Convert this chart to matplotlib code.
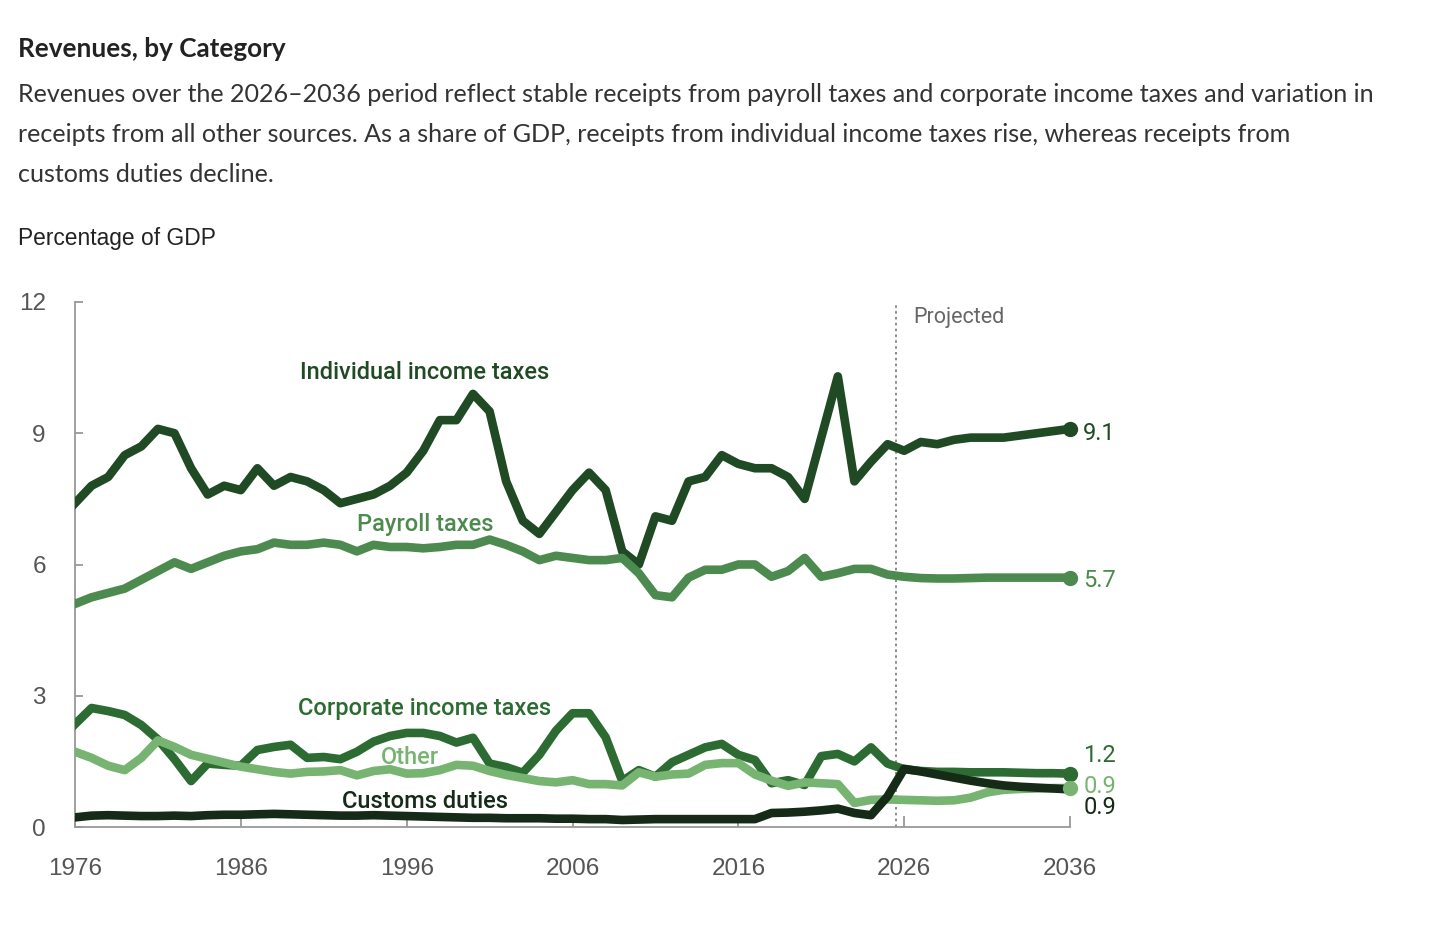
import matplotlib
matplotlib.use("Agg")
import matplotlib.pyplot as plt
import numpy as np

years = list(range(1976, 2037))

individual = [7.4, 7.8, 8.0, 8.5, 8.7, 9.1, 9.0, 8.2, 7.6, 7.8, 7.7, 8.2, 7.8, 8.0, 7.9, 7.7,
              7.4, 7.5, 7.6, 7.8, 8.1, 8.6, 9.3, 9.3, 9.9, 9.5, 7.9, 7.0, 6.7, 7.2, 7.7, 8.1,
              7.7, 6.3, 6.0, 7.1, 7.0, 7.9, 8.0, 8.5, 8.3, 8.2, 8.2, 8.0, 7.5, 8.9, 10.3, 7.9,
              8.35, 8.75, 8.6, 8.8, 8.75, 8.85, 8.9, 8.9, 8.9, 8.95, 9.0, 9.05, 9.1]
payroll = [5.1, 5.25, 5.35, 5.45, 5.65, 5.85, 6.05, 5.9, 6.05, 6.2, 6.3, 6.35, 6.5, 6.45, 6.45, 6.5,
           6.45, 6.3, 6.45, 6.4, 6.4, 6.37, 6.4, 6.45, 6.45, 6.57, 6.45, 6.3, 6.1, 6.2, 6.15, 6.1,
           6.1, 6.15, 5.8, 5.3, 5.25, 5.7, 5.88, 5.88, 6.0, 6.0, 5.72, 5.85, 6.15, 5.72, 5.8, 5.9,
           5.9, 5.77, 5.72, 5.69, 5.68, 5.68, 5.69, 5.7, 5.7, 5.7, 5.7, 5.7, 5.7]
corporate = [2.35, 2.72, 2.65, 2.56, 2.33, 2.0, 1.55, 1.05, 1.45, 1.42, 1.4, 1.76, 1.83, 1.88, 1.58, 1.6,
             1.55, 1.72, 1.95, 2.08, 2.15, 2.15, 2.08, 1.93, 2.04, 1.45, 1.37, 1.24, 1.65, 2.2, 2.6, 2.6,
             2.05, 1.05, 1.3, 1.15, 1.48, 1.65, 1.82, 1.9, 1.65, 1.53, 1.0, 1.07, 0.96, 1.62, 1.67, 1.5,
             1.82, 1.45, 1.32, 1.28, 1.26, 1.26, 1.25, 1.25, 1.25, 1.24, 1.23, 1.23, 1.22]
other = [1.72, 1.58, 1.4, 1.3, 1.58, 1.98, 1.83, 1.65, 1.56, 1.47, 1.38, 1.32, 1.26, 1.22, 1.26, 1.27,
         1.3, 1.18, 1.28, 1.32, 1.22, 1.23, 1.3, 1.42, 1.4, 1.28, 1.19, 1.12, 1.05, 1.02, 1.07, 0.98,
         0.98, 0.95, 1.25, 1.15, 1.2, 1.22, 1.42, 1.46, 1.46, 1.2, 1.06, 0.94, 1.02, 1.0, 0.98, 0.55,
         0.62, 0.63, 0.62, 0.61, 0.6, 0.61, 0.67, 0.79, 0.85, 0.87, 0.88, 0.89, 0.89]
customs = [0.22, 0.26, 0.27, 0.26, 0.25, 0.25, 0.26, 0.25, 0.27, 0.28, 0.28, 0.29, 0.3, 0.29, 0.28, 0.27,
           0.26, 0.26, 0.27, 0.26, 0.25, 0.24, 0.23, 0.22, 0.21, 0.21, 0.2, 0.2, 0.2, 0.19, 0.19, 0.18,
           0.18, 0.16, 0.17, 0.18, 0.18, 0.18, 0.18, 0.18, 0.18, 0.18, 0.32, 0.33, 0.35, 0.38, 0.42, 0.32,
           0.27, 0.7, 1.33, 1.27, 1.2, 1.13, 1.06, 1.0, 0.95, 0.92, 0.9, 0.88, 0.86]

end_labels = ["9.1", "5.7", "1.2", "0.9", "0.9"]
series_names = ["Individual income taxes", "Payroll taxes", "Corporate income taxes", "Other", "Customs duties"]
x_ticks = [1976, 1986, 1996, 2006, 2016, 2026, 2036]
y_ticks = [0, 3, 6, 9, 12]

C_IND = "#1f4a24"
C_PAY = "#4d8a4f"
C_COR = "#2c6b32"
C_OTH = "#78b471"
C_CUS = "#152b18"
GREY = "#555555"

W, H = 1430, 925
fig = plt.figure(figsize=(W / 100, H / 100), dpi=100)

def px(x, y):
    return x / W, 1 - y / H

left, right, top, bottom = 75, 1070, 302, 827
ax = fig.add_axes([left / W, 1 - bottom / H, (right - left) / W, (bottom - top) / H])
ax.set_xlim(1976, 2036)
ax.set_ylim(0, 12)

lw = 6.2
ax.plot(years, individual, color=C_IND, lw=lw, zorder=3)
ax.plot(years, payroll, color=C_PAY, lw=lw, zorder=3)
ax.plot(years, corporate, color=C_COR, lw=lw, zorder=3)
ax.plot(years, other, color=C_OTH, lw=lw, zorder=3)
ax.plot(years, customs, color=C_CUS, lw=lw, zorder=4)
for s, c in [(individual, C_IND), (payroll, C_PAY), (corporate, C_COR), (other, C_OTH)]:
    ax.plot([years[-1]], [s[-1]], "o", color=c, ms=10, zorder=5, clip_on=False)

ax.axvline(2025.5, ymin=0, ymax=1.0, color="#777777", lw=1.2, ls=(0, (1.5, 2)), zorder=2)

for sp in ["top", "right"]:
    ax.spines[sp].set_visible(False)
for sp in ["left", "bottom"]:
    ax.spines[sp].set_color("#999999")
    ax.spines[sp].set_linewidth(1.3)

ax.set_xticks(x_ticks)
ax.set_yticks(y_ticks)
ax.set_xticklabels([str(t) for t in x_ticks], fontfamily="Liberation Sans", fontsize=17.5, color=GREY)
ax.set_yticklabels([str(t) for t in y_ticks], fontfamily="Liberation Sans", fontsize=17.5, color=GREY)
ax.tick_params(axis="x", direction="in", length=8, width=1.3, color="#999999", pad=22)
ax.tick_params(axis="y", direction="in", length=6, width=1.3, color="#999999", pad=21)

lab_font = dict(fontfamily="Roboto", fontsize=17, fontweight="medium", ha="center", va="center")
ax.text(1997.1, 10.38, series_names[0], color=C_IND, **lab_font)
ax.text(1997.1, 6.92, series_names[1], color=C_PAY, **lab_font)
ax.text(1997.1, 2.72, series_names[2], color=C_COR, **lab_font)
ax.text(1996.2, 1.6, series_names[3], color=C_OTH, **lab_font)
ax.text(1997.1, 0.59, series_names[4], color=C_CUS, **lab_font)
ax.text(2026.55, 11.65, "Projected", color="#666666", fontfamily="Roboto", fontsize=15.5, ha="left", va="center")

end_font = dict(fontfamily="Roboto", fontsize=17, ha="left", va="center")
ax.text(2036.8, 9.0, end_labels[0], color=C_IND, **end_font)
ax.text(2036.8, 5.64, end_labels[1], color=C_PAY, **end_font)
ax.text(2036.8, 1.64, end_labels[2], color=C_COR, **end_font)
ax.text(2036.8, 0.93, end_labels[3], color=C_OTH, **end_font)
ax.text(2036.8, 0.45, end_labels[4], color=C_CUS, **end_font)

fig.text(*px(18, 49), "Revenues, by Category", fontfamily="Lato", fontweight="bold", fontsize=18.8,
         color="#222222", ha="left", va="center")
sub = ["Revenues over the 2026\u20132036 period reflect stable receipts from payroll taxes and corporate income taxes and variation in",
       "receipts from all other sources. As a share of GDP, receipts from individual income taxes rise, whereas receipts from",
       "customs duties decline."]
for i, line in enumerate(sub):
    fig.text(*px(18, 95 + 39.5 * i), line, fontfamily="Lato", fontsize=18.1, color="#333333",
             ha="left", va="center")
fig.text(*px(18, 238), "Percentage of GDP", fontfamily="Liberation Sans", fontsize=16.4,
         color="#222222", ha="left", va="center")

fig.savefig("out.png", dpi=100)
